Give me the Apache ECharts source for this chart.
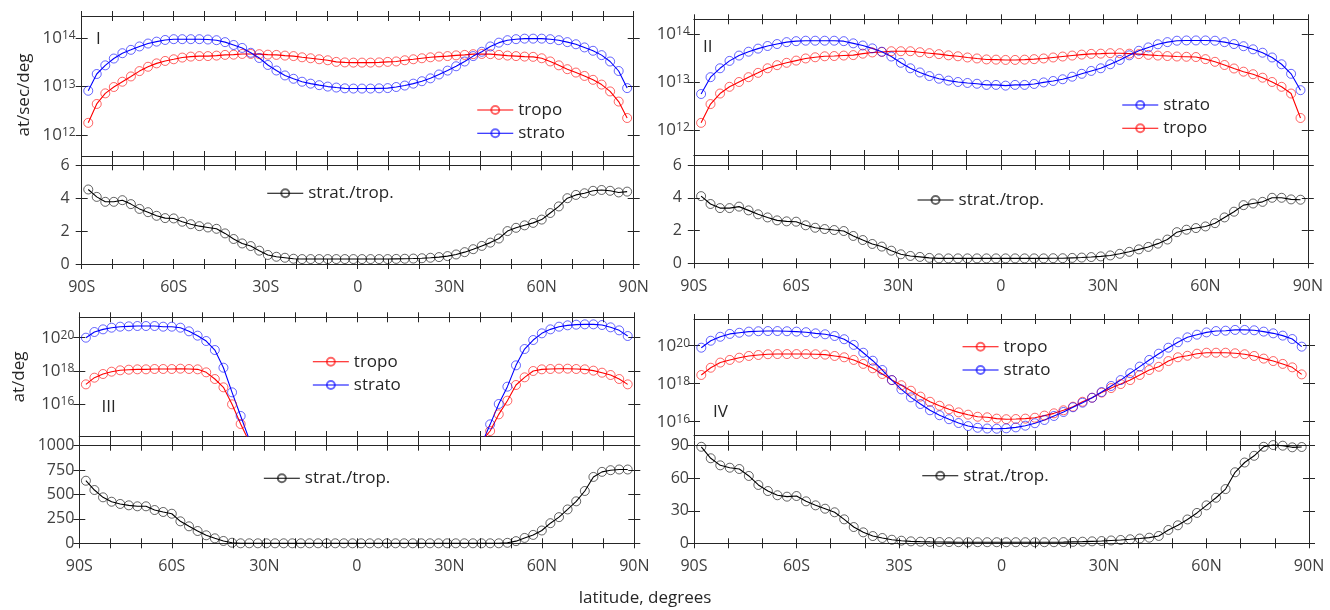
<!DOCTYPE html>
<html>
<head>
<meta charset="utf-8">
<title>tropo / strato</title>
<script src="https://cdn.jsdelivr.net/npm/echarts@6.0.0/dist/echarts.min.js"></script>
<style>
  html, body { margin: 0; padding: 0; background: #fff; }
  #chart-container { width: 1330px; height: 610px; }
</style>
</head>
<body>
<div id="chart-container"></div>
<script>
// T42 gaussian latitudes, south to north
var lats = [-87.86,-85.10,-82.31,-79.53,-76.74,-73.95,-71.16,-68.37,-65.58,-62.79,-60.00,-57.21,-54.42,-51.63,-48.84,-46.04,
  -43.25,-40.46,-37.67,-34.88,-32.09,-29.30,-26.51,-23.72,-20.93,-18.14,-15.35,-12.56,-9.77,-6.98,-4.19,-1.40,
  1.40,4.19,6.98,9.77,12.56,15.35,18.14,20.93,23.72,26.51,29.30,32.09,34.88,37.67,40.46,43.25,
  46.04,48.84,51.63,54.42,57.21,60.00,62.79,65.58,68.37,71.16,73.95,76.74,79.53,82.31,85.10,87.86];

var latTicks = [-90, -60, -30, 0, 30, 60, 90];
var latLabelsA = ['90S', '60S', '30S', '0', '30N', '60N', '90N'];
var latLabelsB = ['90S', '60S', '30N', '0', '30N', '60N', '90N'];
var logTicksSec = [1e12, 1e13, 1e14];
var logTicksDeg = [1e16, 1e18, 1e20];

// panel I
var tropoI = [1.78e12,4.37e12,7.24e12,9.8e12,1.26e13,1.62e13,2.09e13,2.57e13,3.02e13,3.39e13,
  3.67e13,3.98e13,4.17e13,4.27e13,4.27e13,4.37e13,4.52e13,4.57e13,4.73e13,4.73e13,
  4.68e13,4.57e13,4.52e13,4.37e13,4.27e13,4.03e13,3.85e13,3.67e13,3.5e13,3.24e13,
  3.16e13,3.13e13,3.13e13,3.13e13,3.16e13,3.24e13,3.31e13,3.5e13,3.67e13,3.85e13,
  4.03e13,4.17e13,4.27e13,4.42e13,4.52e13,4.68e13,4.73e13,4.68e13,4.52e13,4.37e13,
  4.27e13,4.17e13,4.12e13,3.85e13,3.31e13,2.75e13,2.29e13,1.95e13,1.66e13,1.38e13,
  1.1e13,7.94e12,4.9e12,2.24e12];
var stratoI = [8.2e12,1.82e13,2.75e13,3.8e13,4.9e13,5.75e13,6.76e13,7.76e13,8.5e13,9.2e13,
  9.55e13,9.55e13,9.55e13,9.55e13,9.4e13,9.1e13,8.3e13,7.25e13,6.3e13,5.0e13,
  3.9e13,2.8e13,2.15e13,1.7e13,1.45e13,1.26e13,1.15e13,1.07e13,1.0e13,9.55e12,
  9.2e12,9.1e12,9.1e12,9.1e12,9.2e12,9.3e12,9.8e12,1.05e13,1.15e13,1.29e13,
  1.48e13,1.78e13,2.14e13,2.63e13,3.3e13,4.27e13,5.25e13,6.76e13,8.1e13,9.1e13,
  9.55e13,9.8e13,9.8e13,9.8e13,9.55e13,9.1e13,8.3e13,7.5e13,6.45e13,5.5e13,
  4.47e13,3.3e13,2.1e13,9.3e12];
var ratioI = [4.53,4.08,3.78,3.78,3.88,3.64,3.35,3.15,2.93,2.79,
  2.77,2.57,2.42,2.30,2.22,2.14,1.86,1.52,1.25,1.09,
  0.81,0.55,0.44,0.38,0.32,0.30,0.30,0.30,0.30,0.30,
  0.30,0.30,0.30,0.30,0.30,0.30,0.31,0.32,0.33,0.35,
  0.38,0.42,0.48,0.58,0.72,0.9,1.1,1.3,1.55,2.0,
  2.2,2.35,2.5,2.7,3.1,3.5,4.0,4.2,4.3,4.45,
  4.5,4.45,4.35,4.4];

// panel II
var tropoII = [1.41e12,3.47e12,5.75e12,7.94e12,1.0e13,1.26e13,1.55e13,1.93e13,2.24e13,2.51e13,
  2.79e13,3.09e13,3.27e13,3.43e13,3.47e13,3.55e13,3.63e13,3.89e13,4.12e13,4.22e13,
  4.37e13,4.37e13,4.37e13,4.17e13,3.98e13,3.8e13,3.59e13,3.43e13,3.24e13,3.09e13,
  2.95e13,2.92e13,2.88e13,2.88e13,2.92e13,2.99e13,3.09e13,3.24e13,3.39e13,3.55e13,
  3.72e13,3.85e13,3.89e13,3.98e13,3.98e13,3.89e13,3.8e13,3.67e13,3.55e13,3.47e13,
  3.39e13,3.35e13,3.31e13,2.99e13,2.63e13,2.26e13,1.91e13,1.64e13,1.45e13,1.23e13,
  1.0e13,7.94e12,5.75e12,1.78e12];
var stratoII = [5.62e12,1.26e13,1.93e13,2.75e13,3.55e13,4.27e13,4.95e13,5.62e13,6.17e13,6.76e13,
  7.08e13,7.24e13,7.24e13,7.24e13,7.24e13,7.08e13,6.38e13,5.75e13,5.01e13,4.27e13,
  3.39e13,2.51e13,1.93e13,1.58e13,1.33e13,1.17e13,1.07e13,1.0e13,9.55e12,9.2e12,
  8.7e12,8.7e12,8.4e12,8.7e12,8.7e12,9.1e12,9.8e12,1.05e13,1.14e13,1.29e13,
  1.48e13,1.7e13,1.93e13,2.34e13,2.88e13,3.59e13,4.47e13,5.25e13,6.1e13,6.76e13,
  7.24e13,7.33e13,7.33e13,7.33e13,7.24e13,6.76e13,6.17e13,5.56e13,4.79e13,4.07e13,
  3.24e13,2.34e13,1.48e13,6.76e12];
var ratioII = [4.1,3.62,3.37,3.37,3.46,3.23,2.99,2.80,2.62,2.56,
  2.54,2.32,2.17,2.09,2.03,1.97,1.67,1.42,1.18,1.02,
  0.77,0.55,0.45,0.39,0.33,0.30,0.30,0.30,0.30,0.30,
  0.30,0.30,0.30,0.30,0.30,0.30,0.30,0.31,0.31,0.33,
  0.35,0.38,0.42,0.48,0.58,0.7,0.85,1.0,1.2,1.45,
  1.9,2.05,2.15,2.25,2.45,2.8,3.15,3.55,3.65,3.75,
  4.0,4.0,3.9,3.88];

// panel III (tropics fall off the bottom of the log axis)
var tropoIII = [1.58e17,3.98e17,6.61e17,9.12e17,1.1e18,1.2e18,1.26e18,1.26e18,1.32e18,1.32e18,
  1.32e18,1.38e18,1.32e18,1.26e18,8.32e17,3.31e17,1.05e17,1.0e16,6.61e14,5.6e13,
  null,null,null,null,null,null,null,null,null,null,null,null,null,
  null,null,null,null,null,null,null,null,null,null,null,null,null,
  6.3e13,2.51e14,2.51e15,1.66e16,1.45e17,4.17e17,1.0e18,1.26e18,1.32e18,1.38e18,
  1.38e18,1.32e18,1.26e18,1.05e18,7.94e17,5.75e17,3.31e17,1.58e17];
var stratoIII = [1.0e20,2.19e20,3.16e20,3.98e20,4.57e20,4.79e20,5.01e20,5.01e20,5.01e20,4.57e20,
  4.57e20,3.98e20,2.4e20,1.32e20,6.31e19,1.82e19,1.58e18,5.25e16,2.0e15,7.8e13,
  null,null,null,null,null,null,null,null,null,null,null,null,null,
  null,null,null,null,null,null,null,null,null,null,null,null,null,
  4.0e13,6.31e14,1.05e16,1.15e17,2.19e18,2.09e19,7.24e19,1.82e20,3.16e20,4.57e20,
  5.5e20,6.03e20,6.31e20,6.31e20,5.75e20,4.17e20,2.75e20,1.26e20];
var ratioIII = [641,546,471,426,403,389,379,379,341,321,
  303,225,174,126,82,51,24,6,0,0,
  0,0,0,0,0,0,0,0,0,0,
  0,0,0,0,0,0,0,0,0,0,
  0,0,0,0,0,0,0,0,0,5,
  22,55,86,131,206,268,347,430,536,680,
  732,749,756,756];

// panel IV
var tropoIV = [2.88e18,6.92e18,1.29e19,1.78e19,2.34e19,2.88e19,3.24e19,3.55e19,3.63e19,3.63e19,
  3.63e19,3.63e19,3.55e19,3.39e19,2.88e19,2.45e19,1.78e19,1.1e19,6.46e18,3.24e18,
  1.55e18,8.32e17,4.27e17,2.09e17,1.12e17,6.92e16,4.47e16,3.09e16,2.34e16,1.82e16,
  1.7e16,1.45e16,1.35e16,1.38e16,1.45e16,1.62e16,2.09e16,2.75e16,3.98e16,6.17e16,
  1.12e17,1.82e17,3.39e17,5.89e17,9.55e17,1.55e18,2.88e18,5.25e18,7.76e18,1.55e19,
  2.45e19,2.95e19,3.8e19,4.27e19,4.27e19,4.27e19,3.98e19,3.55e19,2.88e19,2.09e19,
  1.55e19,1.1e19,7.24e18,3.09e18];
var stratoIV = [7.85e19,1.82e20,2.95e20,4.17e20,4.79e20,5.5e20,5.75e20,5.89e20,5.89e20,5.75e20,
  5.5e20,5.13e20,4.47e20,3.98e20,3.24e20,2.19e20,1.1e20,4.27e19,1.62e19,5.25e18,
  1.55e18,5.01e17,1.91e17,8.51e16,3.98e16,2.19e16,1.35e16,8.51e15,5.89e15,4.79e15,
  4.37e15,4.27e15,4.47e15,5.01e15,6.17e15,8.32e15,1.23e16,2.0e16,3.24e16,5.75e16,
  1.0e17,1.82e17,3.63e17,7.59e17,1.55e18,3.55e18,7.94e18,1.78e19,3.8e19,7.85e19,
  1.51e20,2.75e20,3.8e20,5.01e20,5.89e20,6.17e20,6.76e20,6.76e20,6.46e20,5.5e20,
  4.47e20,3.39e20,2.24e20,8.91e19];
var ratioIV = [89,78.4,71.9,69.7,68.5,62.1,53.8,48.2,44.3,43.0,
  43.6,38.7,35.0,31.9,28.6,22.1,15.0,10.1,6.7,4.9,
  3.3,2.4,1.8,1.5,1.3,1.2,1.1,1.0,1.0,1.0,
  1.0,1.0,1.0,1.0,1.0,1.0,1.0,1.0,1.1,1.3,
  1.5,1.8,2.1,2.6,3.1,3.7,4.4,5.2,6.8,12.3,
  16.6,22,28,35,42,50,65.5,74.5,80.7,89,
  90.6,90,88.5,88.8];

var font = 'Open Sans';
var axisColor = '#262626';
var labelColor = '#404040';
var yTick = 6;

var panels = [
  { name: 'I', top: [81.7, 16, 552, 140], bot: [81.7, 165.3, 552, 98.7],
    tropo: tropoI, strato: stratoI, ratio: ratioI,
    logMin: 3.67e11, logMax: 2.88e14, logTicks: logTicksSec, logMargin: 6,
    rMax: 6, rStep: 2, rMargin: 12, xLabels: latLabelsA,
    legend: [476.7, 100, ['tropo', 'strato']], rLegend: [266.7, 183.3],
    tag: [96, 39.5] },
  { name: 'II', top: [693.8, 19.3, 614, 135.7], bot: [693.8, 165, 614, 98.3],
    tropo: tropoII, strato: stratoII, ratio: ratioII,
    logMin: 3.02e11, logMax: 2.02e14, logTicks: logTicksSec, logMargin: 4,
    rMax: 6, rStep: 2, rMargin: 12, xLabels: latLabelsB,
    legend: [1121.7, 95, ['strato', 'tropo']], rLegend: [917, 190],
    tag: [703, 47] },
  { name: 'III', top: [79.3, 317.3, 555, 118.7], bot: [79.3, 445.7, 555, 97.6],
    tropo: tropoIII, strato: stratoIII, ratio: ratioIII,
    logMin: 1.26e14, logMax: 1.67e21, logTicks: logTicksDeg, logMargin: 5,
    rMax: 1000, rStep: 250, rMargin: 5, xLabels: latLabelsB,
    legend: [312.3, 351.7, ['tropo', 'strato']], rLegend: [263.3, 468.3],
    tag: [101.5, 407.5] },
  { name: 'IV', top: [694, 319, 615, 116.7], bot: [694, 445.7, 615, 97.6],
    tropo: tropoIV, strato: stratoIV, ratio: ratioIV,
    logMin: 1.83e15, logMax: 2.54e21, logTicks: logTicksDeg, logMargin: 4,
    rMax: 90, rStep: 30, rMargin: 5, xLabels: latLabelsA,
    legend: [962, 336.7, ['tropo', 'strato']], rLegend: [921.7, 465.7],
    tag: [713, 411.7] }
];

function tickOpt(inside, len, values) {
  var t = { show: true, inside: inside, length: len, lineStyle: { color: axisColor } };
  if (values) t.customValues = values;
  return t;
}

// x edges: axis line with ticks inside, plus a bare copy with ticks outside
function xBoxAxes(gi, label) {
  var out = [];
  ['bottom', 'top'].forEach(function (pos, k) {
    [true, false].forEach(function (inside) {
      out.push({
        type: 'value', gridIndex: gi, min: -90, max: 90, interval: 10, position: pos,
        axisLine: inside ? { show: true, onZero: false, lineStyle: { color: axisColor } } : { show: false, onZero: false },
        axisTick: tickOpt(inside, 5, null),
        axisLabel: (inside && k === 0 && label) ? label : { show: false },
        splitLine: { show: false }
      });
    });
  });
  return out;
}

// y edges: one axis per side, ticks pointing out
function yPair(common, gi, withLine, label, tickValues) {
  return ['left', 'right'].map(function (pos, k) {
    return Object.assign({}, common, {
      gridIndex: gi, position: pos,
      axisLine: withLine ? { show: true, onZero: false, lineStyle: { color: axisColor } } : { show: false, onZero: false },
      axisTick: tickOpt(false, yTick, tickValues),
      axisLabel: (k === 0 && label) ? label : { show: false },
      splitLine: { show: false }
    });
  });
}

function latAxisLabel(labels) {
  return {
    show: true, margin: 15, color: labelColor, fontFamily: font, fontSize: 16,
    customValues: latTicks,
    formatter: function (v) {
      var i = latTicks.indexOf(Math.round(v));
      return i < 0 ? '' : labels[i];
    }
  };
}

function powLabel(margin, ticks) {
  return {
    show: true, margin: margin, customValues: ticks,
    formatter: function (v) {
      var e = Math.log10(v);
      if (Math.abs(e - Math.round(e)) > 0.01) return '';
      return '{b|10}{s|' + Math.round(e) + '}';
    },
    rich: {
      b: { fontSize: 17, lineHeight: 17, verticalAlign: 'bottom', color: labelColor, fontFamily: font },
      s: { fontSize: 12, lineHeight: 12, verticalAlign: 'top', padding: [0, 0, 10, 0], color: labelColor, fontFamily: font }
    }
  };
}

function pairs(values) {
  return values.map(function (v, i) { return [lats[i], v == null ? '-' : v]; });
}

function lineSeries(name, color, markColor, values, xi, yi, clip) {
  return {
    type: 'line', name: name, xAxisIndex: xi, yAxisIndex: yi,
    data: pairs(values), clip: clip, animation: false,
    symbol: 'circle', symbolSize: 9, showAllSymbol: true,
    lineStyle: { color: color, width: 1.1 },
    itemStyle: { color: 'rgba(255,255,255,0)', borderColor: markColor, borderWidth: 1 },
    emphasis: { disabled: true }
  };
}

var grids = [], xAxes = [], yAxes = [], series = [], legends = [], graphics = [];
var legendCommon = {
  orient: 'vertical', padding: 0, itemGap: 3.3, itemWidth: 36, itemHeight: 10,
  selectedMode: false,
  lineStyle: { width: 1.1 },
  textStyle: { fontSize: 17, lineHeight: 20, color: axisColor, fontFamily: font }
};

panels.forEach(function (p) {
  [p.top, p.bot].forEach(function (g, k) {
    var yCommon = k === 0
      ? { type: 'log', min: p.logMin, max: p.logMax }
      : { type: 'value', min: 0, max: p.rMax, interval: p.rStep };
    var tickValues = k === 0 ? p.logTicks : null;
    var yLabel = k === 0 ? powLabel(p.logMargin, p.logTicks)
      : { show: true, margin: p.rMargin, color: labelColor, fontFamily: font, fontSize: 16,
          formatter: function (v) { return String(v); } };

    // main plot box
    var gi = grids.length;
    grids.push({ left: g[0], top: g[1], width: g[2], height: g[3], outerBoundsMode: 'none' });
    var xi = xAxes.length, yi = yAxes.length;
    xAxes = xAxes.concat(xBoxAxes(gi, k === 1 ? latAxisLabel(p.xLabels) : null));
    yAxes = yAxes.concat(yPair(yCommon, gi, true, yLabel, tickValues));

    // narrower copy of the box: its outward y ticks fall inside the main box
    var gj = grids.length;
    grids.push({ left: g[0] + yTick, top: g[1], width: g[2] - 2 * yTick, height: g[3], outerBoundsMode: 'none' });
    xAxes.push({ type: 'value', gridIndex: gj, min: -90, max: 90, show: false });
    yAxes = yAxes.concat(yPair(yCommon, gj, false, null, tickValues));

    if (k === 0) {
      series.push(lineSeries('tropo', '#ff0000', 'rgba(255,0,0,0.6)', p.tropo, xi, yi, true));
      series.push(lineSeries('strato', '#0000ff', 'rgba(0,0,255,0.6)', p.strato, xi, yi, true));
    } else {
      series.push(lineSeries('strat./trop.', '#000000', 'rgba(0,0,0,0.6)', p.ratio, xi, yi, false));
    }
  });
  legends.push(Object.assign({}, legendCommon, { left: p.legend[0], top: p.legend[1], data: p.legend[2] }));
  legends.push(Object.assign({}, legendCommon, { left: p.rLegend[0], top: p.rLegend[1], data: ['strat./trop.'] }));
  graphics.push({ type: 'text', x: p.tag[0], y: p.tag[1],
    style: { text: p.name, fontSize: 17, fontFamily: font, fill: axisColor, textVerticalAlign: 'middle' } });
});

graphics.push({ type: 'text', x: 24, y: 95, rotation: Math.PI / 2,
  style: { text: 'at/sec/deg', fontSize: 17, fontFamily: font, fill: axisColor, textAlign: 'center', textVerticalAlign: 'middle' } });
graphics.push({ type: 'text', x: 19, y: 377, rotation: Math.PI / 2,
  style: { text: 'at/deg', fontSize: 17, fontFamily: font, fill: axisColor, textAlign: 'center', textVerticalAlign: 'middle' } });
graphics.push({ type: 'text', x: 645, y: 598,
  style: { text: 'latitude, degrees', fontSize: 17, fontFamily: font, fill: axisColor, textAlign: 'center', textVerticalAlign: 'middle' } });

var dom = document.getElementById('chart-container');
var myChart = echarts.init(dom, null, { renderer: 'canvas', useDirtyRect: false });
var option = {
  backgroundColor: '#ffffff',
  animation: false,
  grid: grids,
  xAxis: xAxes,
  yAxis: yAxes,
  legend: legends,
  graphic: graphics,
  series: series
};
myChart.setOption(option);
window.addEventListener('resize', function () { myChart.resize(); });
</script>
</body>
</html>
